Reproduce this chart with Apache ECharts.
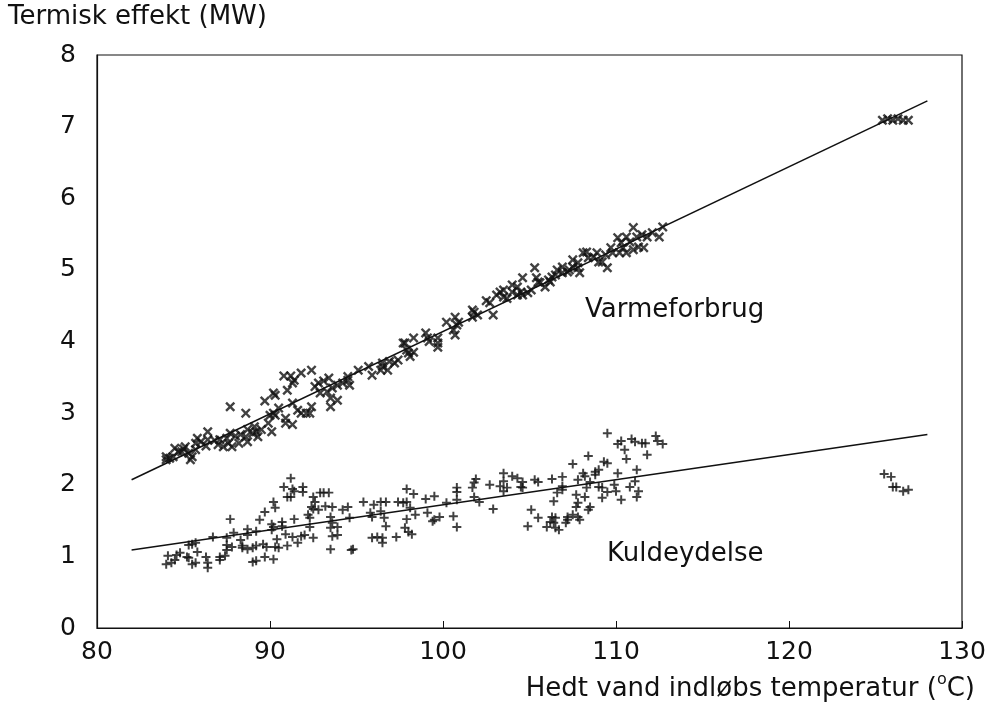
<!DOCTYPE html>
<html lang="da">
<head>
<meta charset="utf-8">
<title>Termisk effekt</title>
<script src="https://cdn.jsdelivr.net/npm/echarts@6/dist/echarts.min.js"></script>
<style>
    html, body { margin: 0; padding: 0; background: #fff; }
    #chart { width: 993px; height: 705px; }
</style>
</head>
<body>
<div id="chart"></div>
<script>
(function (window, document) {
    "use strict";

    // ---- Axis ticks ----
    const xTicks = [80, 90, 100, 110, 120, 130];
    const yTicks = [0, 1, 2, 3, 4, 5, 6, 7, 8];

    // ---- Varmeforbrug (x markers) [temp, MW] ----
    const varmePoints = [
        [84.0, 2.39], [84.2, 2.37], [84.4, 2.39], [84.0, 2.35], [84.5, 2.51], [84.7, 2.46], [84.9, 2.46],
        [85.1, 2.53], [85.3, 2.44], [85.5, 2.39], [85.4, 2.35], [85.8, 2.65], [85.7, 2.58], [85.7, 2.49],
        [86.3, 2.54], [86.4, 2.74], [86.4, 2.63], [87.1, 2.63], [87.0, 2.56], [87.3, 2.53], [87.8, 2.53],
        [87.7, 2.72], [87.5, 2.65], [87.6, 2.58], [88.3, 2.70], [88.2, 2.58], [88.7, 2.77], [88.7, 2.60],
        [88.6, 2.67], [89.1, 2.81], [89.2, 2.74], [89.5, 2.77], [89.3, 2.67], [89.9, 2.86], [90.1, 2.74],
        [90.9, 2.93], [90.9, 2.86], [91.3, 2.84], [90.0, 2.97], [90.2, 3.00], [90.3, 2.97], [90.5, 3.07],
        [87.7, 3.09], [88.6, 3.00], [89.7, 3.17], [90.2, 3.28], [90.3, 3.25], [91.0, 3.32], [91.3, 3.42],
        [91.4, 3.46], [90.8, 3.52], [91.2, 3.52], [91.8, 3.56], [92.4, 3.60], [92.6, 3.37], [92.8, 3.42],
        [93.1, 3.45], [93.4, 3.49], [92.9, 3.28], [93.3, 3.30], [93.6, 3.35], [93.9, 3.39], [94.2, 3.42],
        [93.5, 3.21], [93.9, 3.18], [93.5, 3.09], [92.4, 3.09], [92.1, 3.00], [91.8, 3.00], [91.6, 3.04],
        [92.3, 3.00], [91.3, 3.14], [94.5, 3.46], [94.6, 3.39], [85.0, 2.50], [86.0, 2.60], [86.8, 2.62],
        [88.0, 2.68], [89.0, 2.72],
        [94.5, 3.51], [95.1, 3.60], [95.7, 3.65], [95.9, 3.53], [96.5, 3.65], [96.5, 3.70], [96.4, 3.60],
        [96.8, 3.60], [96.9, 3.72], [97.2, 3.70], [97.4, 3.74], [97.8, 3.98], [98.0, 3.84], [98.1, 3.79],
        [97.9, 3.88], [98.3, 3.85], [98.3, 4.05], [97.7, 3.98], [99.0, 4.12], [99.1, 4.05], [99.2, 4.00],
        [99.7, 3.98], [99.7, 4.05], [99.7, 3.92], [100.2, 4.27], [100.7, 4.34], [100.8, 4.23], [100.9, 4.27],
        [100.7, 4.09], [100.6, 4.16], [101.7, 4.44], [101.8, 4.41], [102.0, 4.37], [101.7, 4.34], [102.5, 4.57],
        [102.7, 4.54], [102.9, 4.37], [103.1, 4.65], [103.3, 4.69], [103.5, 4.62], [103.5, 4.72], [103.7, 4.60],
        [104.0, 4.79], [104.0, 4.69], [104.3, 4.76], [104.5, 4.69], [104.3, 4.65], [104.6, 4.65], [104.6, 4.89],
        [105.3, 5.03], [105.4, 4.89], [105.5, 4.83], [105.6, 4.82], [105.1, 4.72], [104.9, 4.68], [106.1, 4.86],
        [106.3, 4.90], [106.5, 4.93], [106.2, 4.83], [105.9, 4.76], [106.6, 5.00], [106.9, 4.96], [106.9, 5.04],
        [107.2, 4.97], [107.3, 5.00], [107.5, 5.04], [107.5, 5.14], [107.8, 5.10], [107.8, 5.03], [107.9, 4.96],
        [108.1, 5.24], [108.3, 5.25], [108.4, 5.17], [108.7, 5.18], [108.9, 5.24], [109.0, 5.11], [109.2, 5.11],
        [109.5, 5.03], [109.4, 5.21], [109.7, 5.31], [109.8, 5.24], [110.1, 5.45], [110.3, 5.38], [110.4, 5.31],
        [110.2, 5.24], [110.6, 5.46], [110.8, 5.39], [111.0, 5.59], [111.2, 5.46], [111.5, 5.49], [111.8, 5.46],
        [110.6, 5.24], [111.0, 5.28], [111.3, 5.32], [111.6, 5.31], [112.7, 5.60], [112.5, 5.46], [112.1, 5.52],
        [125.4, 7.09], [125.7, 7.11], [126.0, 7.09], [126.3, 7.11], [126.6, 7.09], [126.9, 7.09]
    ];

    // ---- Kuldeydelse (+ markers) [temp, MW] ----
    const kuldePoints = [
        [91.2, 2.09], [90.8, 1.97], [91.3, 1.94], [91.4, 1.91], [91.9, 1.97], [91.9, 1.90], [91.0, 1.83],
        [91.2, 1.83], [90.2, 1.76], [90.3, 1.68], [89.7, 1.62], [92.5, 1.83], [92.6, 1.76], [92.9, 1.89],
        [93.1, 1.89], [93.4, 1.89], [92.4, 1.69], [92.5, 1.66], [92.2, 1.58], [92.3, 1.54], [92.8, 1.65],
        [93.2, 1.70], [93.6, 1.69], [94.2, 1.65], [94.5, 1.69], [93.5, 1.55], [94.6, 1.54], [87.7, 1.52],
        [89.4, 1.51], [90.1, 1.45], [90.7, 1.48], [90.7, 1.42], [91.4, 1.52], [87.9, 1.33], [88.7, 1.38],
        [88.7, 1.30], [89.2, 1.35], [90.1, 1.37], [90.2, 1.41], [90.4, 1.24], [90.9, 1.31], [91.3, 1.27],
        [92.3, 1.41], [92.5, 1.26], [93.6, 1.47], [93.5, 1.40], [93.9, 1.41], [93.6, 1.28], [93.9, 1.30],
        [86.7, 1.27], [87.5, 1.26], [87.5, 1.16], [87.8, 1.13], [87.5, 1.09], [88.3, 1.23], [88.4, 1.15],
        [88.7, 1.10], [88.4, 1.12], [89.0, 1.12], [89.2, 1.15], [89.6, 1.17], [89.8, 1.13], [90.3, 1.13],
        [90.5, 1.12], [91.0, 1.15], [91.6, 1.19], [91.8, 1.28], [92.0, 1.30], [85.3, 1.16], [85.5, 1.17],
        [85.7, 1.19], [85.8, 1.06], [84.1, 1.01], [84.6, 1.02], [84.8, 1.05], [84.0, 0.89], [84.3, 0.91],
        [84.5, 0.95], [85.2, 0.99], [85.3, 0.98], [85.5, 0.89], [85.7, 0.91], [86.3, 0.99], [86.4, 0.91],
        [86.4, 0.84], [87.1, 0.99], [87.1, 0.95], [87.4, 1.01], [89.0, 0.92], [89.2, 0.94], [89.7, 0.99],
        [90.2, 0.96], [93.5, 1.10], [94.7, 1.09], [95.4, 1.76],
        [109.5, 2.72], [110.1, 2.57], [110.3, 2.61], [110.5, 2.49], [110.9, 2.64], [111.1, 2.60], [111.5, 2.58],
        [111.7, 2.58], [112.3, 2.68], [112.4, 2.61], [112.7, 2.57], [108.4, 2.40], [110.6, 2.36], [111.8, 2.42],
        [107.5, 2.29], [109.3, 2.32], [109.5, 2.30], [108.1, 2.16], [108.2, 2.12], [108.8, 2.18], [109.0, 2.21],
        [108.8, 2.14], [110.1, 2.16], [111.2, 2.21], [111.1, 2.05], [107.8, 2.07], [108.5, 2.04], [109.0, 1.97],
        [109.2, 1.96], [108.3, 1.96], [109.9, 2.00], [110.0, 1.91], [110.8, 1.97], [111.3, 1.91], [109.5, 1.90],
        [107.7, 1.86], [108.2, 1.83], [109.2, 1.82], [110.3, 1.79], [111.2, 1.83], [106.6, 1.89], [106.4, 1.77],
        [107.8, 1.75], [107.7, 1.69], [108.5, 1.69], [108.4, 1.65], [105.1, 1.65], [105.5, 1.54], [106.3, 1.55],
        [106.5, 1.54], [106.2, 1.48], [106.4, 1.47], [107.2, 1.55], [107.5, 1.58], [107.2, 1.51], [107.1, 1.47],
        [107.9, 1.51], [107.8, 1.55], [106.0, 1.41], [106.5, 1.40], [106.7, 1.37], [104.9, 1.42], [106.9, 1.98],
        [106.9, 1.93], [106.3, 2.08], [106.9, 2.11], [105.3, 2.07], [105.5, 2.04], [104.3, 2.09], [104.6, 2.04],
        [104.5, 1.97], [104.6, 1.96], [104.0, 2.12], [103.5, 2.16], [103.5, 2.05], [103.3, 1.98], [103.5, 1.91],
        [102.7, 2.00], [103.7, 1.96], [101.9, 2.08], [101.8, 2.03], [101.7, 1.96], [100.8, 1.96], [100.8, 1.90],
        [101.8, 1.83], [102.1, 1.76], [102.9, 1.66], [100.8, 1.79], [100.2, 1.75], [99.5, 1.84], [99.0, 1.80],
        [100.6, 1.56], [100.8, 1.41], [99.8, 1.55], [99.5, 1.51], [99.4, 1.49], [99.1, 1.61], [98.4, 1.58],
        [97.9, 1.52], [97.9, 1.94], [98.3, 1.87], [97.9, 1.76], [97.4, 1.76], [97.7, 1.75], [98.1, 1.68],
        [97.8, 1.40], [98.0, 1.34], [98.2, 1.31], [97.3, 1.27], [95.9, 1.26], [96.2, 1.27], [96.5, 1.26],
        [96.5, 1.19], [96.6, 1.54], [96.7, 1.42], [96.4, 1.63], [95.8, 1.61], [95.9, 1.55], [96.0, 1.72],
        [96.4, 1.76], [96.7, 1.76], [94.8, 1.10],
        [125.5, 2.15], [125.9, 2.11], [126.0, 1.97], [126.2, 1.97], [126.6, 1.91], [126.9, 1.93]
    ];

    // ---- Fitted lines (end points) ----
    const varmeLine = [[82, 2.07], [128, 7.36]];
    const kuldeLine = [[82, 1.09], [128, 2.70]];

    // ---- Marker shapes ----
    const SYM = {
        cross: "path://M0,1.7L1.7,0L5,3.3L8.3,0L10,1.7L6.7,5L10,8.3L8.3,10L5,6.7L1.7,10L0,8.3L3.3,5Z",
        plus: "path://M3.9,0H6.1V3.9H10V6.1H6.1V10H3.9V6.1H0V3.9H3.9Z"
    };

    const FONT = "DejaVu Sans";
    const INK = "#111";

    const el = document.getElementById("chart");
    const chart = echarts.init(el, null, { renderer: "canvas" });

    function lineSeries(data) {
        return {
            type: "line",
            data: data,
            showSymbol: false,
            symbol: "none",
            lineStyle: { color: INK, width: 1.5 },
            silent: true,
            z: 3
        };
    }

    chart.setOption({
        animation: false,
        backgroundColor: "#fff",
        grid: {
            left: 97, right: 31, top: 55, bottom: 77,
            show: true, borderColor: INK, borderWidth: 1.2, backgroundColor: "transparent"
        },
        xAxis: {
            type: "value",
            min: xTicks[0],
            max: xTicks[xTicks.length - 1],
            interval: 10,
            axisLine: { show: true, onZero: false, lineStyle: { color: INK, width: 1.2 } },
            axisTick: { show: true, inside: true, length: 7, lineStyle: { color: INK } },
            axisLabel: { color: INK, fontFamily: FONT, fontSize: 25, margin: 12 },
            splitLine: { show: false }
        },
        yAxis: {
            type: "value",
            min: yTicks[0],
            max: yTicks[yTicks.length - 1],
            interval: 1,
            axisLine: { show: true, lineStyle: { color: INK, width: 1.2 } },
            axisTick: { show: false },
            axisLabel: { color: INK, fontFamily: FONT, fontSize: 25, margin: 21 },
            splitLine: { show: false }
        },
        graphic: [
            {
                type: "text", left: 8, top: 4,
                style: { text: "Termisk effekt (MW)", font: "26px " + FONT, fill: INK }
            },
            {
                type: "text", right: 18, top: 672,
                style: {
                    text: "{n|Hedt vand indløbs temperatur (}{s|o}{n|C)}",
                    fill: INK,
                    rich: {
                        n: { fontFamily: FONT, fontSize: 26, fill: INK, verticalAlign: "bottom", lineHeight: 30 },
                        s: { fontFamily: FONT, fontSize: 16, fill: INK, verticalAlign: "top", lineHeight: 30, padding: [0, 0, 12, 0] }
                    }
                }
            },
            {
                type: "text", left: 585, top: 297,
                style: { text: "Varmeforbrug", font: "26px " + FONT, fill: INK }
            },
            {
                type: "text", left: 607, top: 541,
                style: { text: "Kuldeydelse", font: "26px " + FONT, fill: INK }
            }
        ],
        series: [
            lineSeries(varmeLine),
            lineSeries(kuldeLine),
            {
                name: "Varmeforbrug",
                type: "scatter",
                data: varmePoints,
                symbol: SYM.cross,
                symbolSize: 10,
                itemStyle: { color: INK },
                z: 4
            },
            {
                name: "Kuldeydelse",
                type: "scatter",
                data: kuldePoints,
                symbol: SYM.plus,
                symbolSize: 9,
                itemStyle: { color: INK },
                z: 4
            }
        ]
    });

    window.addEventListener("resize", () => chart.resize());
})(window, document);
</script>
</body>
</html>
